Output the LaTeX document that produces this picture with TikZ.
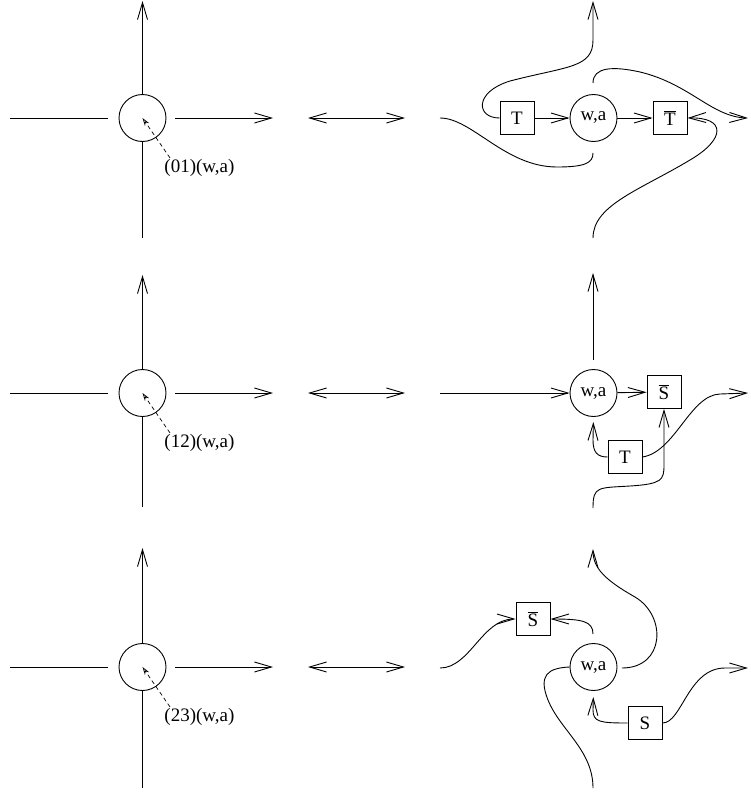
\documentclass[tikz,border=0pt]{standalone}
\usepackage{fontspec}
\setmainfont{Liberation Serif}
\usetikzlibrary{arrows.meta,calc}
\begin{document}
\begin{tikzpicture}[x=1pt,y=-1pt,line width=0.9pt,
  every node/.style={font=\fontsize{19}{22}\selectfont},
  vx/.style={draw,circle,minimum size=47pt,inner sep=0pt},
  bx/.style={draw,rectangle,minimum width=34pt,minimum height=33pt,inner sep=0pt},
  lbl/.style={anchor=west,inner sep=0pt},
  arr/.style={-{Straight Barb[length=17pt,width=10pt]}},
  darr/.style={{Straight Barb[length=17pt,width=10pt]}-{Straight Barb[length=17pt,width=10pt]}},
  ptr/.style={dashed,dash pattern=on 4pt off 3pt,line width=0.7pt,-{Stealth[open,length=8pt,width=5pt]}}]
\useasboundingbox (0,0) rectangle (750,795);

% ---------- left panels ----------
\foreach \r/\y/\t/\b/\lab in {1/118/1/238/{(01)(w,a)}, 2/393/275/507/{(12)(w,a)}, 3/667/548/788/{(23)(w,a)}}{
  \node[vx] (c\r) at (142.5,\y) {};
  \coordinate (w\r) at (10,\y);
  \coordinate (wi\r) at (108,\y);
  \coordinate (eo\r) at (175,\y);
  \coordinate (e\r) at (273,\y);
  \coordinate (n\r) at (142.5,\t);
  \coordinate (s\r) at (142.5,\b);
  \coordinate (d1\r) at (308,\y);
  \coordinate (d2\r) at (405,\y);
  \node[lbl] (l\r) at (164,\y+50) {\lab};
  \draw (w\r) -- (wi\r);
  \draw[arr] (eo\r) -- (e\r);
  \draw[arr] (c\r.north) -- (n\r);
  \draw (c\r.south) -- (s\r);
  \draw[darr] (d1\r) -- (d2\r);
  \draw[ptr] ($(l\r.north west)+(6,-1)$) -- (c\r.center);
}

% ---------- right panel, row 1 ----------
\node[vx] (r1) at (593.5,118) {w,a};
\node[bx] (t1) at (517,118) {T};
\node[bx] (tb1) at (670,118) {$\overline{\hbox{T}}$};
\coordinate (a1) at (440,118);
\coordinate (a2) at (593,153);
\coordinate (top1) at (593,1);
\coordinate (a3) at (593,83);
\coordinate (rt1) at (748,118);
\coordinate (bot1) at (593,238);
\draw[arr] (t1) -- (r1);
\draw[arr] (r1) -- (tb1);
\draw (a1) .. controls (472,118) and (505,167) .. (557,167) .. controls (585,167) and (593,163) .. (a2);
\draw[arr] (t1.west) .. controls (476,118) and (474,92) .. (510,81) .. controls (568,66) and (593,68) .. (593,40) -- (top1);
\draw[arr] (a3) .. controls (593,67) and (613,66) .. (640,72) .. controls (690,84) and (712,117) .. (rt1);
\draw[arr] (bot1) .. controls (593,205) and (640,190) .. (690,160) .. controls (726,139) and (726,117) .. (tb1.east);

% ---------- right panel, row 2 ----------
\node[vx] (r2) at (593.5,393) {w,a};
\node[bx] (sb2) at (664,392) {$\overline{\hbox{S}}$};
\node[bx] (t2) at (625,457) {T};
\coordinate (b1) at (440,393);
\coordinate (b2) at (593,360);
\coordinate (top2) at (593,273);
\coordinate (rt2) at (748,393);
\coordinate (bot2) at (593,508);
\draw[arr] (b1) -- (r2);
\draw[arr] (r2) -- (sb2);
\draw[arr] (b2) -- (top2);
\draw[arr,shorten >=5pt] (t2.west) .. controls (597,457) and (593,452) .. (593,440) -- (r2.south);
\draw[arr] (t2.east) .. controls (675,452) and (690,395) .. (720,394) -- (rt2);
\draw[arr] (bot2) .. controls (593,486) and (598,488) .. (630,486) .. controls (662,484) and (664,480) .. (664,465) -- (sb2.south);

% ---------- right panel, row 3 ----------
\node[vx] (r3) at (593.5,667) {w,a};
\node[bx] (sb3) at (533,619) {$\overline{\hbox{S}}$};
\node[bx] (s3) at (645,723) {S};
\coordinate (c1a) at (440,668);
\coordinate (c2a) at (593,634);
\coordinate (c3a) at (622,668);
\coordinate (top3) at (593,549);
\coordinate (bot3) at (593,788);
\coordinate (rt3) at (748,668);
\draw[arr] (c1a) .. controls (470,668) and (482,619) .. (sb3.west);
\draw[arr] (c2a) .. controls (593,621) and (582,619) .. (sb3.east);
\draw[arr] (c3a) .. controls (665,668) and (667,616) .. (635,597) .. controls (605,580) and (593,568) .. (top3);
\draw (bot3) .. controls (593,750) and (560,730) .. (548,700) .. controls (538,675) and (548,668) .. (r3.west);
\draw[arr,shorten >=6pt] (s3.west) .. controls (600,723) and (593,722) .. (593,710) -- (r3.south);
\draw[arr] (s3.east) .. controls (682,723) and (688,668) .. (725,668) -- (rt3);
\end{tikzpicture}
\end{document}
